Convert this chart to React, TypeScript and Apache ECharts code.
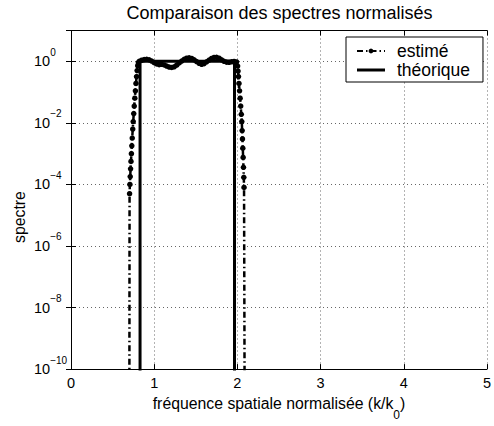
import { useEffect, useRef } from 'react';
import * as echarts from 'echarts';

// Estimated spectrum (k/k0, normalised spectrum)
const estK = [
  0.7, 0.704, 0.708, 0.712, 0.716, 0.721, 0.726, 0.731, 0.736, 0.742, 0.748, 0.754, 0.76, 0.767, 0.774,
  0.781, 0.788, 0.795, 0.802, 0.81,
  0.82, 0.85, 0.88, 0.91, 0.94, 0.97, 1.0, 1.03, 1.06, 1.09, 1.12, 1.15, 1.18, 1.21, 1.24, 1.27, 1.3,
  1.33, 1.36, 1.39, 1.42, 1.45, 1.48, 1.51, 1.54, 1.57, 1.6, 1.63, 1.66, 1.69, 1.72, 1.75, 1.78, 1.81,
  1.84, 1.87, 1.9, 1.93, 1.96, 1.99,
  2.003, 2.008, 2.013, 2.019, 2.026, 2.033, 2.04, 2.047, 2.053, 2.057, 2.061, 2.065, 2.069, 2.073,
  2.077, 2.08, 2.092,
];
const estS = [
  1e-16, 5e-5, 1e-4, 1.8e-4, 3.2e-4, 5.6e-4, 1e-3, 1.8e-3, 3.2e-3, 6.3e-3, 0.011, 0.02, 0.035, 0.063, 0.11,
  0.19, 0.32, 0.5, 0.72, 0.9,
  1.0, 1.08, 1.14, 1.16, 1.12, 1.02, 0.9, 0.82, 0.78, 0.8, 0.76, 0.7, 0.65, 0.63, 0.66, 0.75, 0.88,
  1.02, 1.16, 1.26, 1.3, 1.24, 1.12, 0.98, 0.86, 0.8, 0.84, 0.96, 1.1, 1.24, 1.33, 1.35, 1.26, 1.12,
  1.0, 0.94, 0.93, 0.96, 0.99, 0.95,
  0.7, 0.48, 0.32, 0.19, 0.11, 0.063, 0.035, 0.019, 0.011, 5.6e-3, 3e-3, 1.5e-3, 7.5e-4, 3.6e-4,
  1.7e-4, 8e-5, 1e-16,
];

// Theoretical spectrum: flat band, zero outside
const theoK = [0.83, 0.83, 1.965, 1.965];
const theoS = [1e-20, 1, 1, 1e-20];

const xMin = 0;
const xMax = 5;
const xStep = 1;
const yMin = 1e-10;
const yMax = 10;
const yStepDecades = 2;

const FONT = "'Liberation Sans', Arial, Helvetica, sans-serif";

export default function App() {
  const ref = useRef<HTMLDivElement>(null);

  useEffect(() => {
    if (!ref.current) return;
    const chart = echarts.init(ref.current, undefined, { renderer: 'svg' });

    const estData = estK.map((k, i) => [k, estS[i]]);
    const theoData = theoK.map((k, i) => [k, theoS[i]]);

    const yLabel = (v: number) => {
      const e = Math.round(Math.log10(v));
      if (e > 0) return '';
      const s = e < 0 ? '\u2212' + Math.abs(e) : String(e);
      return `{b|10}{e|${s}}`;
    };

    const frameAxisLine = { show: true, lineStyle: { color: '#000', width: 1 } };
    const tick = { show: true, inside: true, length: 5, lineStyle: { color: '#000', width: 1 } };
    const grid = { show: true, lineStyle: { color: '#666', width: 1, type: [1, 3] } };

    chart.setOption({
      animation: false,
      backgroundColor: '#fff',
      textStyle: { fontFamily: FONT },
      grid: { left: 71, right: 6, top: 30.5, bottom: 45 },
      graphic: [
        {
          type: 'text',
          x: 279.5,
          y: 12.8,
          style: {
            text: 'Comparaison des spectres normalisés',
            textAlign: 'center',
            textVerticalAlign: 'middle',
            fontSize: 18,
            fontFamily: FONT,
            fill: '#000',
          },
        },
        {
          type: 'text',
          x: 19.5,
          y: 217,
          rotation: Math.PI / 2,
          style: {
            text: 'spectre',
            textAlign: 'center',
            textVerticalAlign: 'middle',
            fontSize: 15.8,
            fontFamily: FONT,
            fill: '#000',
          },
        },
      ],
      legend: {
        orient: 'vertical',
        left: 346,
        top: 37,
        itemWidth: 28,
        itemHeight: 6,
        itemGap: 1,
        padding: [5, 13, 3, 10],
        borderColor: '#000',
        borderWidth: 1,
        borderRadius: 0,
        backgroundColor: '#fff',
        textStyle: { fontSize: 17.5, color: '#000', fontFamily: FONT, lineHeight: 18, padding: [0, 0, 0, 7] },
        data: [
          { name: 'estimé' },
          { name: 'théorique', icon: 'path://M0,0L28,0L28,3L0,3Z' },
        ],
      },
      xAxis: [
        {
          type: 'value',
          min: xMin,
          max: xMax,
          interval: xStep,
          position: 'bottom',
          axisLine: frameAxisLine,
          axisTick: tick,
          axisLabel: { show: true, margin: 6, fontSize: 14.5, color: '#000', fontFamily: FONT },
          splitLine: grid,
          name: '{a|fréquence spatiale normalisée (k/k}{s|0}{a|)}',
          nameLocation: 'middle',
          nameGap: 7,
          nameTextStyle: {
            color: '#000',
            fontFamily: FONT,
            rich: {
              a: { fontSize: 15.8, lineHeight: 36, fontFamily: FONT, color: '#000' },
              s: { fontSize: 12, lineHeight: 10, verticalAlign: 'bottom', fontFamily: FONT, color: '#000' },
            },
          },
        },
        {
          type: 'value',
          min: xMin,
          max: xMax,
          interval: xStep,
          position: 'top',
          axisLine: frameAxisLine,
          axisTick: tick,
          axisLabel: { show: false },
          splitLine: { show: false },
        },
      ],
      yAxis: [
        {
          type: 'log',
          logBase: 10,
          min: yMin,
          max: yMax,
          interval: yStepDecades,
          position: 'left',
          axisLine: frameAxisLine,
          axisTick: tick,
          splitLine: grid,
          axisLabel: {
            show: true,
            align: 'left',
            margin: 37,
            color: '#000',
            formatter: yLabel,
            rich: {
              b: { fontSize: 14.5, lineHeight: 28, fontFamily: FONT, color: '#000' },
              e: { fontSize: 10, lineHeight: 12, verticalAlign: 'top', fontFamily: FONT, color: '#000' },
            },
          },
        },
        {
          type: 'log',
          logBase: 10,
          min: yMin,
          max: yMax,
          interval: yStepDecades,
          position: 'right',
          axisLine: frameAxisLine,
          axisTick: tick,
          axisLabel: { show: false },
          splitLine: { show: false },
        },
      ],
      series: [
        {
          name: 'estimé',
          type: 'line',
          data: estData,
          xAxisIndex: 0,
          yAxisIndex: 0,
          symbol: 'circle',
          symbolSize: 5.5,
          showSymbol: true,
          clip: true,
          silent: true,
          itemStyle: { color: '#000' },
          lineStyle: { color: '#000', width: 2.5, type: [6, 3, 1.5, 3] },
          z: 2,
        },
        {
          name: 'théorique',
          type: 'line',
          data: theoData,
          xAxisIndex: 0,
          yAxisIndex: 0,
          symbol: 'none',
          clip: true,
          silent: true,
          itemStyle: { color: '#000' },
          lineStyle: { color: '#000', width: 3 },
          z: 3,
        },
      ],
    });

    return () => chart.dispose();
  }, []);

  return (
    <div
      ref={ref}
      style={{ position: 'absolute', left: 0, top: 0, width: 494, height: 426, background: '#fff' }}
    />
  );
}
